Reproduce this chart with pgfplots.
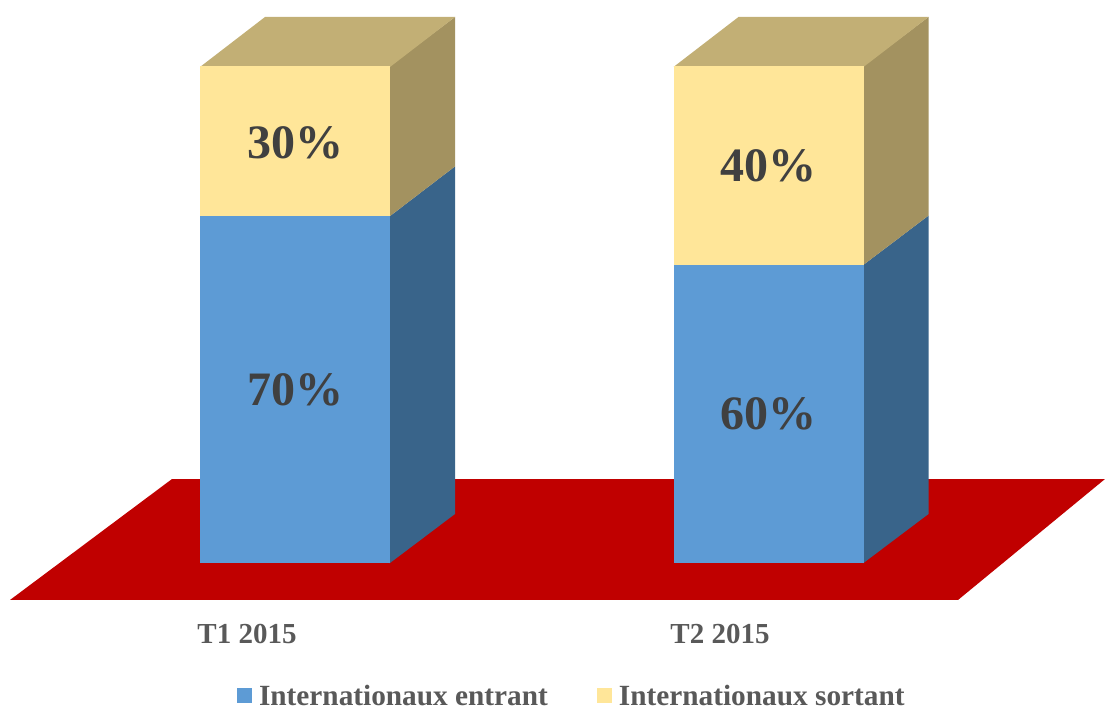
\documentclass[border=0pt]{standalone}
\usepackage{pgfplots}
\pgfplotsset{compat=1.18}
\usepackage{fontspec}
\setmainfont{Liberation Serif}
\definecolor{floorred}{RGB}{192,0,0}
\definecolor{inblue}{RGB}{93,155,213}
\definecolor{inblueside}{RGB}{57,100,138}
\definecolor{outyellow}{RGB}{255,230,153}
\definecolor{outside}{RGB}{163,146,96}
\definecolor{outtop}{RGB}{194,175,117}
\definecolor{labeldark}{RGB}{64,64,64}
\definecolor{ticktext}{RGB}{89,89,89}
% x in image pixels, y in percent (0 = foot of the bars, 100 = top of the front face)
\pgfplotsset{
  face/.style={draw=none, fill=#1, forget plot},
}
\tikzset{
  pct/.style={font=\fontsize{48}{48}\selectfont\bfseries, text=labeldark},
  cat/.style={font=\fontsize{29}{29}\selectfont\bfseries, text=ticktext},
}
\begin{document}
\begin{tikzpicture}
\begin{axis}[
  scale only axis,
  width=1105pt,
  height=704pt,
  xmin=0, xmax=1105,
  ymin=-28.37, ymax=113.28,
  axis lines=none,
  clip=false,
  legend columns=2,
  legend style={at={(axis cs:237,-26.7)}, anchor=west, draw=none, fill=none,
    font=\fontsize{29.3}{29.3}\selectfont\bfseries, text=ticktext,
    /tikz/every odd column/.append style={column sep=5pt},
    /tikz/every even column/.append style={column sep=47pt}, inner sep=0pt, outer sep=0pt},
  legend image code/.code={\fill[#1] (0pt,-7.5pt) rectangle (15pt,7.5pt);},
]
% keeps the page at the full picture size
\path (axis cs:0,-28.37) (axis cs:1105,113.28);
% floor
\addplot[face=floorred] coordinates {(10,-7.44) (958,-7.44) (1105,16.9) (172,16.9)} -- cycle;
% T1 2015
\addplot[face=inblueside] coordinates {(389,0) (390,0) (455,9.86) (455,79.8) (390,69.8) (389,69.8)} -- cycle;
\addplot[face=outside] coordinates {(389,69.8) (390,69.8) (455,79.8) (455,109.86) (390,100) (389,100)} -- cycle;
\addplot[face=outtop] coordinates {(200,99.8) (390,99.8) (455,109.86) (265,109.86)} -- cycle;
\addplot[draw=none, fill=inblue] coordinates {(200,0) (390,0) (390,69.8) (200,69.8)} -- cycle;
\addlegendentry{Internationaux entrant}
\addplot[draw=none, fill=outyellow] coordinates {(200,69.8) (390,69.8) (390,100) (200,100)} -- cycle;
\addlegendentry{Internationaux sortant}
% T2 2015
\addplot[face=inblueside] coordinates {(862.5,0) (863.5,0) (928.5,9.86) (928.5,69.9) (863.5,60) (862.5,60)} -- cycle;
\addplot[face=outside] coordinates {(862.5,60) (863.5,60) (928.5,69.9) (928.5,109.86) (863.5,100) (862.5,100)} -- cycle;
\addplot[face=outtop] coordinates {(673.5,99.8) (863.5,99.8) (928.5,109.86) (738.5,109.86)} -- cycle;
\addplot[face=inblue] coordinates {(673.5,0) (863.5,0) (863.5,60) (673.5,60)} -- cycle;
\addplot[face=outyellow] coordinates {(673.5,60) (863.5,60) (863.5,100) (673.5,100)} -- cycle;
% labels
\node[pct] at (axis cs:295,84.6) {30\%};
\node[pct] at (axis cs:295,34.8) {70\%};
\node[pct] at (axis cs:768,80) {40\%};
\node[pct] at (axis cs:768,30) {60\%};
\node[cat] at (axis cs:247,-14.3) {T1 2015};
\node[cat] at (axis cs:720,-14.3) {T2 2015};
\end{axis}
\end{tikzpicture}
\end{document}
